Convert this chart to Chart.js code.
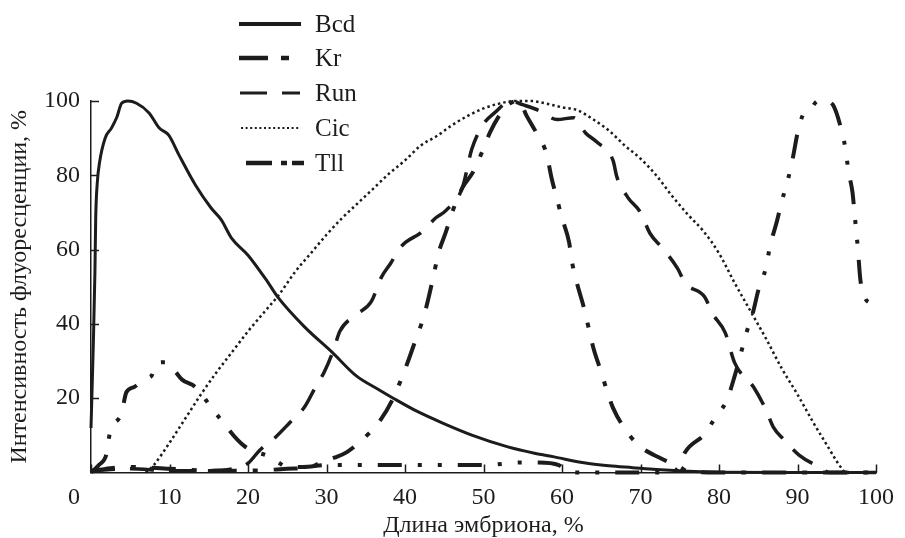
<!DOCTYPE html>
<html><head><meta charset="utf-8">
<script src="https://cdn.jsdelivr.net/npm/chart.js@4/dist/chart.umd.min.js"></script>
<style>html,body{margin:0;padding:0;background:#fff}#wrap{width:905px;height:538px;position:relative}</style>
</head><body><div id="wrap"><canvas id="c" width="905" height="538"></canvas></div>
<script>
// ---- data ----
const seriesNames = ['Bcd', 'Kr', 'Run', 'Cic', 'Tll'];
const xTickValues = [0, 10, 20, 30, 40, 50, 60, 70, 80, 90, 100];
const yTickValues = [20, 40, 60, 80, 100];

const bcdX = [0, 0.3, 0.5, 0.6, 0.8, 1.1, 1.8, 2.6, 3.3, 3.9, 4.7, 5.8, 7.4, 8.7, 9.9, 11.2, 13.3, 15.3, 16.6, 17.9, 20, 22.5, 23.8, 27.2, 30.7, 33.8, 36.4, 38.5, 41.5, 44.8, 48.6, 53.1, 56.5, 59, 62.8, 66, 69, 72, 75.3, 80, 90, 99];
const bcdY = [12, 35, 54, 68.5, 78, 83.6, 90, 92.7, 95.7, 99.4, 100, 99.4, 96.8, 92.7, 90.8, 85.5, 77.4, 71.2, 68, 63.1, 58.5, 51.3, 47.2, 39.2, 32.4, 26, 22.6, 20, 16.5, 13.3, 10, 6.9, 5.2, 4.2, 2.6, 1.8, 1.3, 0.8, 0.4, 0.1, 0, 0];

const krX = [0, 5, 10, 15, 20, 25, 28, 29.4, 31, 32.6, 34.8, 36.7, 38.5, 39.5, 40.4, 41.4, 42.4, 43, 43.6, 44.3, 45.2, 46, 47.3, 48.7, 49.9, 50.8, 52.3, 53.5, 54.5, 55.5, 56.9, 58, 58.7, 59.4, 60, 60.9, 61.3, 61.9, 62.8, 63.4, 64, 65, 65.7, 66.5, 68.4, 70, 72.5, 75, 76, 80, 90, 100];
const krY = [0.5, 1.5, 1, 0.5, 0.5, 1, 1.5, 2.8, 4, 5.5, 9.3, 13.6, 20, 25, 30, 36, 42, 47, 52.6, 59.3, 64.7, 70, 76.6, 81, 86.7, 91.4, 97, 99.5, 100, 96, 90.8, 86, 79, 73.3, 68.5, 62, 56.4, 51, 44.3, 38.9, 33.5, 27, 22.2, 17.4, 10.6, 6.9, 3.9, 1.5, 0.3, 0, 0, 0];

const runX = [0, 5, 10, 15, 18, 20, 21.5, 23.1, 25.4, 27.2, 28.6, 29.7, 30.9, 31.7, 33.8, 35.7, 37, 38.2, 39.2, 40.1, 42, 43.9, 45.2, 47.3, 48.5, 49.9, 51.5, 53.5, 55, 57, 59.4, 61.5, 63, 64.4, 66.5, 67, 68.4, 70, 71.2, 72.8, 74.7, 75.7, 78.2, 79.1, 80.8, 82, 84.4, 86, 86.9, 88.3, 90.2, 93, 94, 100];
const runY = [0.5, 1, 0.5, 0.5, 1, 2.5, 6, 8.7, 13.6, 17.6, 23, 27, 33, 38, 42.5, 46, 52.6, 56.4, 60, 62, 64.5, 68.5, 70.5, 76.6, 87, 93.5, 97, 100, 99, 97.5, 95, 95.5, 91.4, 89, 84, 79.5, 74, 70, 64.4, 60.4, 55, 51, 47.2, 43, 37.6, 29.5, 23, 16.8, 12.3, 8.8, 4.7, 1.2, 0, 0];

const cicX = [7, 8, 10, 12, 14, 16, 18, 20, 22, 24, 26, 28, 30, 32, 34, 36, 38, 40, 42, 44, 46, 48, 50, 52, 54, 56, 58, 60, 62, 64, 66, 68, 70, 72, 74, 76, 78, 80, 82, 84, 86, 88, 90, 92, 94, 95, 96];
const cicY = [0, 2, 8, 14.5, 21, 27, 32.5, 38, 43, 48, 54, 59, 64, 68.5, 72.5, 76.5, 80.5, 84, 88, 90.5, 93.5, 96, 98, 99.3, 100, 100, 99.3, 98.3, 97.5, 95, 92, 88, 84.5, 80, 74.5, 69.5, 65, 59, 51, 43.5, 36, 28, 21, 13.5, 6.5, 3, 0];

const tllX = [0, 1, 2, 2.4, 3.9, 4.5, 5.5, 7, 7.7, 8.3, 9.6, 10.8, 11.6, 13.3, 15.3, 17, 18.7, 19.6, 21, 22.5, 23.8, 25, 27, 30, 35, 40, 45, 50, 55, 57, 59.6, 60.5, 62, 74, 75, 75.7, 78.2, 79.5, 81, 82, 83.5, 84.4, 85, 86, 86.5, 87.3, 88, 88.8, 89.4, 90, 90.8, 91.5, 92.6, 93.5, 94.5, 95.5, 96.1, 96.5, 97, 97.3, 97.7, 98, 98.6, 99.2];
const tllY = [0, 2, 5.2, 10.6, 16, 21.6, 23, 25.4, 26, 29.4, 29.7, 27, 25, 23, 17.6, 13, 8.7, 7, 5.5, 4.5, 2.8, 1.5, 1.5, 2, 2, 2, 2, 2, 2.7, 2.7, 2, 0.5, 0, 0, 2, 5.5, 10.4, 14.7, 19.5, 26, 37.6, 43.7, 49, 55.3, 61, 67, 73, 79, 84.6, 91.3, 96.7, 97.5, 100, 100, 99, 93, 87.3, 81, 75.5, 69, 60, 52, 47, 45.6];

// ---- styles ----
const INK = '#1c1c1c';
const FONT = "'Liberation Serif', 'Times New Roman', serif";
const FS = 24;
const seriesStyle = [
  { width: 3,   dash: [] },
  { width: 4,   dash: [24, 16, 5, 16] },
  { width: 3.5, dash: [24, 15] },
  { width: 2.5, dash: [2.5, 3] },
  { width: 4,   dash: [24, 16, 4, 16, 4, 16] }
];
const legendStyle = [
  { x0: 239, x1: 301, y: 24,  width: 4,   dash: [] },
  { x0: 239, x1: 291, y: 58,  width: 4.5, dash: [29, 13, 8, 40] },
  { x0: 240, x1: 300, y: 93,  width: 3,   dash: [27, 15, 20, 40] },
  { x0: 241, x1: 299, y: 128, width: 2,   dash: [2, 2.6] },
  { x0: 246, x1: 306, y: 163, width: 4.5, dash: [26, 9, 6, 5, 12, 40] }
];

const xs = [bcdX, krX, runX, cicX, tllX];
const ys = [bcdY, krY, runY, cicY, tllY];

const datasets = seriesNames.map((name, i) => ({
  label: name,
  data: xs[i].map((x, j) => ({ x: x, y: ys[i][j] })),
  borderColor: INK,
  borderWidth: seriesStyle[i].width,
  borderDash: seriesStyle[i].dash,
  borderCapStyle: 'butt',
  borderJoinStyle: 'round',
  pointRadius: 0,
  cubicInterpolationMode: 'monotone',
  fill: false,
  clip: false
}));

const decorPlugin = {
  id: 'decor',
  afterDraw(chart) {
    const ctx = chart.ctx;
    const xS = chart.scales.x, yS = chart.scales.y;
    const area = chart.chartArea;
    ctx.save();
    // inward tick marks
    ctx.strokeStyle = INK;
    ctx.lineWidth = 1.5;
    ctx.setLineDash([]);
    ctx.beginPath();
    xTickValues.forEach(v => {
      const px = Math.round(xS.getPixelForValue(v)) + 0.5;
      ctx.moveTo(px, area.bottom);
      ctx.lineTo(px, area.bottom - 8);
    });
    yTickValues.forEach(v => {
      const py = Math.round(yS.getPixelForValue(v)) + 0.5;
      ctx.moveTo(area.left, py);
      ctx.lineTo(area.left + 8, py);
    });
    ctx.stroke();
    // origin label
    ctx.fillStyle = INK;
    ctx.font = FS + 'px ' + FONT;
    ctx.textAlign = 'right';
    ctx.textBaseline = 'middle';
    ctx.fillText('0', area.left - 11, area.bottom + 25);
    // legend
    chart.data.datasets.forEach((ds, i) => {
      const st = legendStyle[i];
      ctx.beginPath();
      ctx.lineWidth = st.width;
      ctx.lineCap = 'butt';
      ctx.setLineDash(st.dash);
      ctx.moveTo(st.x0, st.y);
      ctx.lineTo(st.x1, st.y);
      ctx.stroke();
      ctx.setLineDash([]);
      ctx.textAlign = 'left';
      ctx.textBaseline = 'middle';
      ctx.font = (FS + 1) + 'px ' + FONT;
      ctx.fillText(ds.label, 315, st.y + 1);
    });
    ctx.restore();
  }
};

new Chart(document.getElementById('c'), {
  type: 'line',
  data: { datasets: datasets },
  options: {
    responsive: false,
    animation: false,
    devicePixelRatio: 1,
    layout: { padding: { top: 101, right: 19, left: 0, bottom: 0 } },
    plugins: { legend: { display: false }, tooltip: { enabled: false } },
    scales: {
      x: {
        type: 'linear', min: 0, max: 100,
        afterBuildTicks: s => { s.ticks = xTickValues.map(v => ({ value: v })); },
        afterFit: s => { s.height = 65.5; },
        ticks: { callback: v => (v === 0 ? '' : String(v)), font: { family: FONT, size: FS }, color: INK, padding: 11, maxRotation: 0, autoSkip: false },
        grid: { display: false, drawTicks: false },
        border: { display: true, color: INK, width: 1.5 },
        title: { display: true, text: 'Длина эмбриона, %', font: { family: FONT, size: FS, lineHeight: 1.0 }, color: INK, padding: { top: 0, bottom: 0 } }
      },
      y: {
        type: 'linear', min: 0, max: 100,
        afterBuildTicks: s => { s.ticks = yTickValues.map(v => ({ value: v })); },
        afterFit: s => { s.width = 91; },
        ticks: { font: { family: FONT, size: FS }, color: INK, padding: 11 },
        grid: { display: false, drawTicks: false },
        border: { display: true, color: INK, width: 1.5 },
        title: { display: true, text: 'Интенсивность флуоресценции, %', font: { family: FONT, size: FS, lineHeight: 1.0 }, color: INK, padding: { top: 8, bottom: 0 } }
      }
    }
  },
  plugins: [decorPlugin]
});
</script>
</body></html>
